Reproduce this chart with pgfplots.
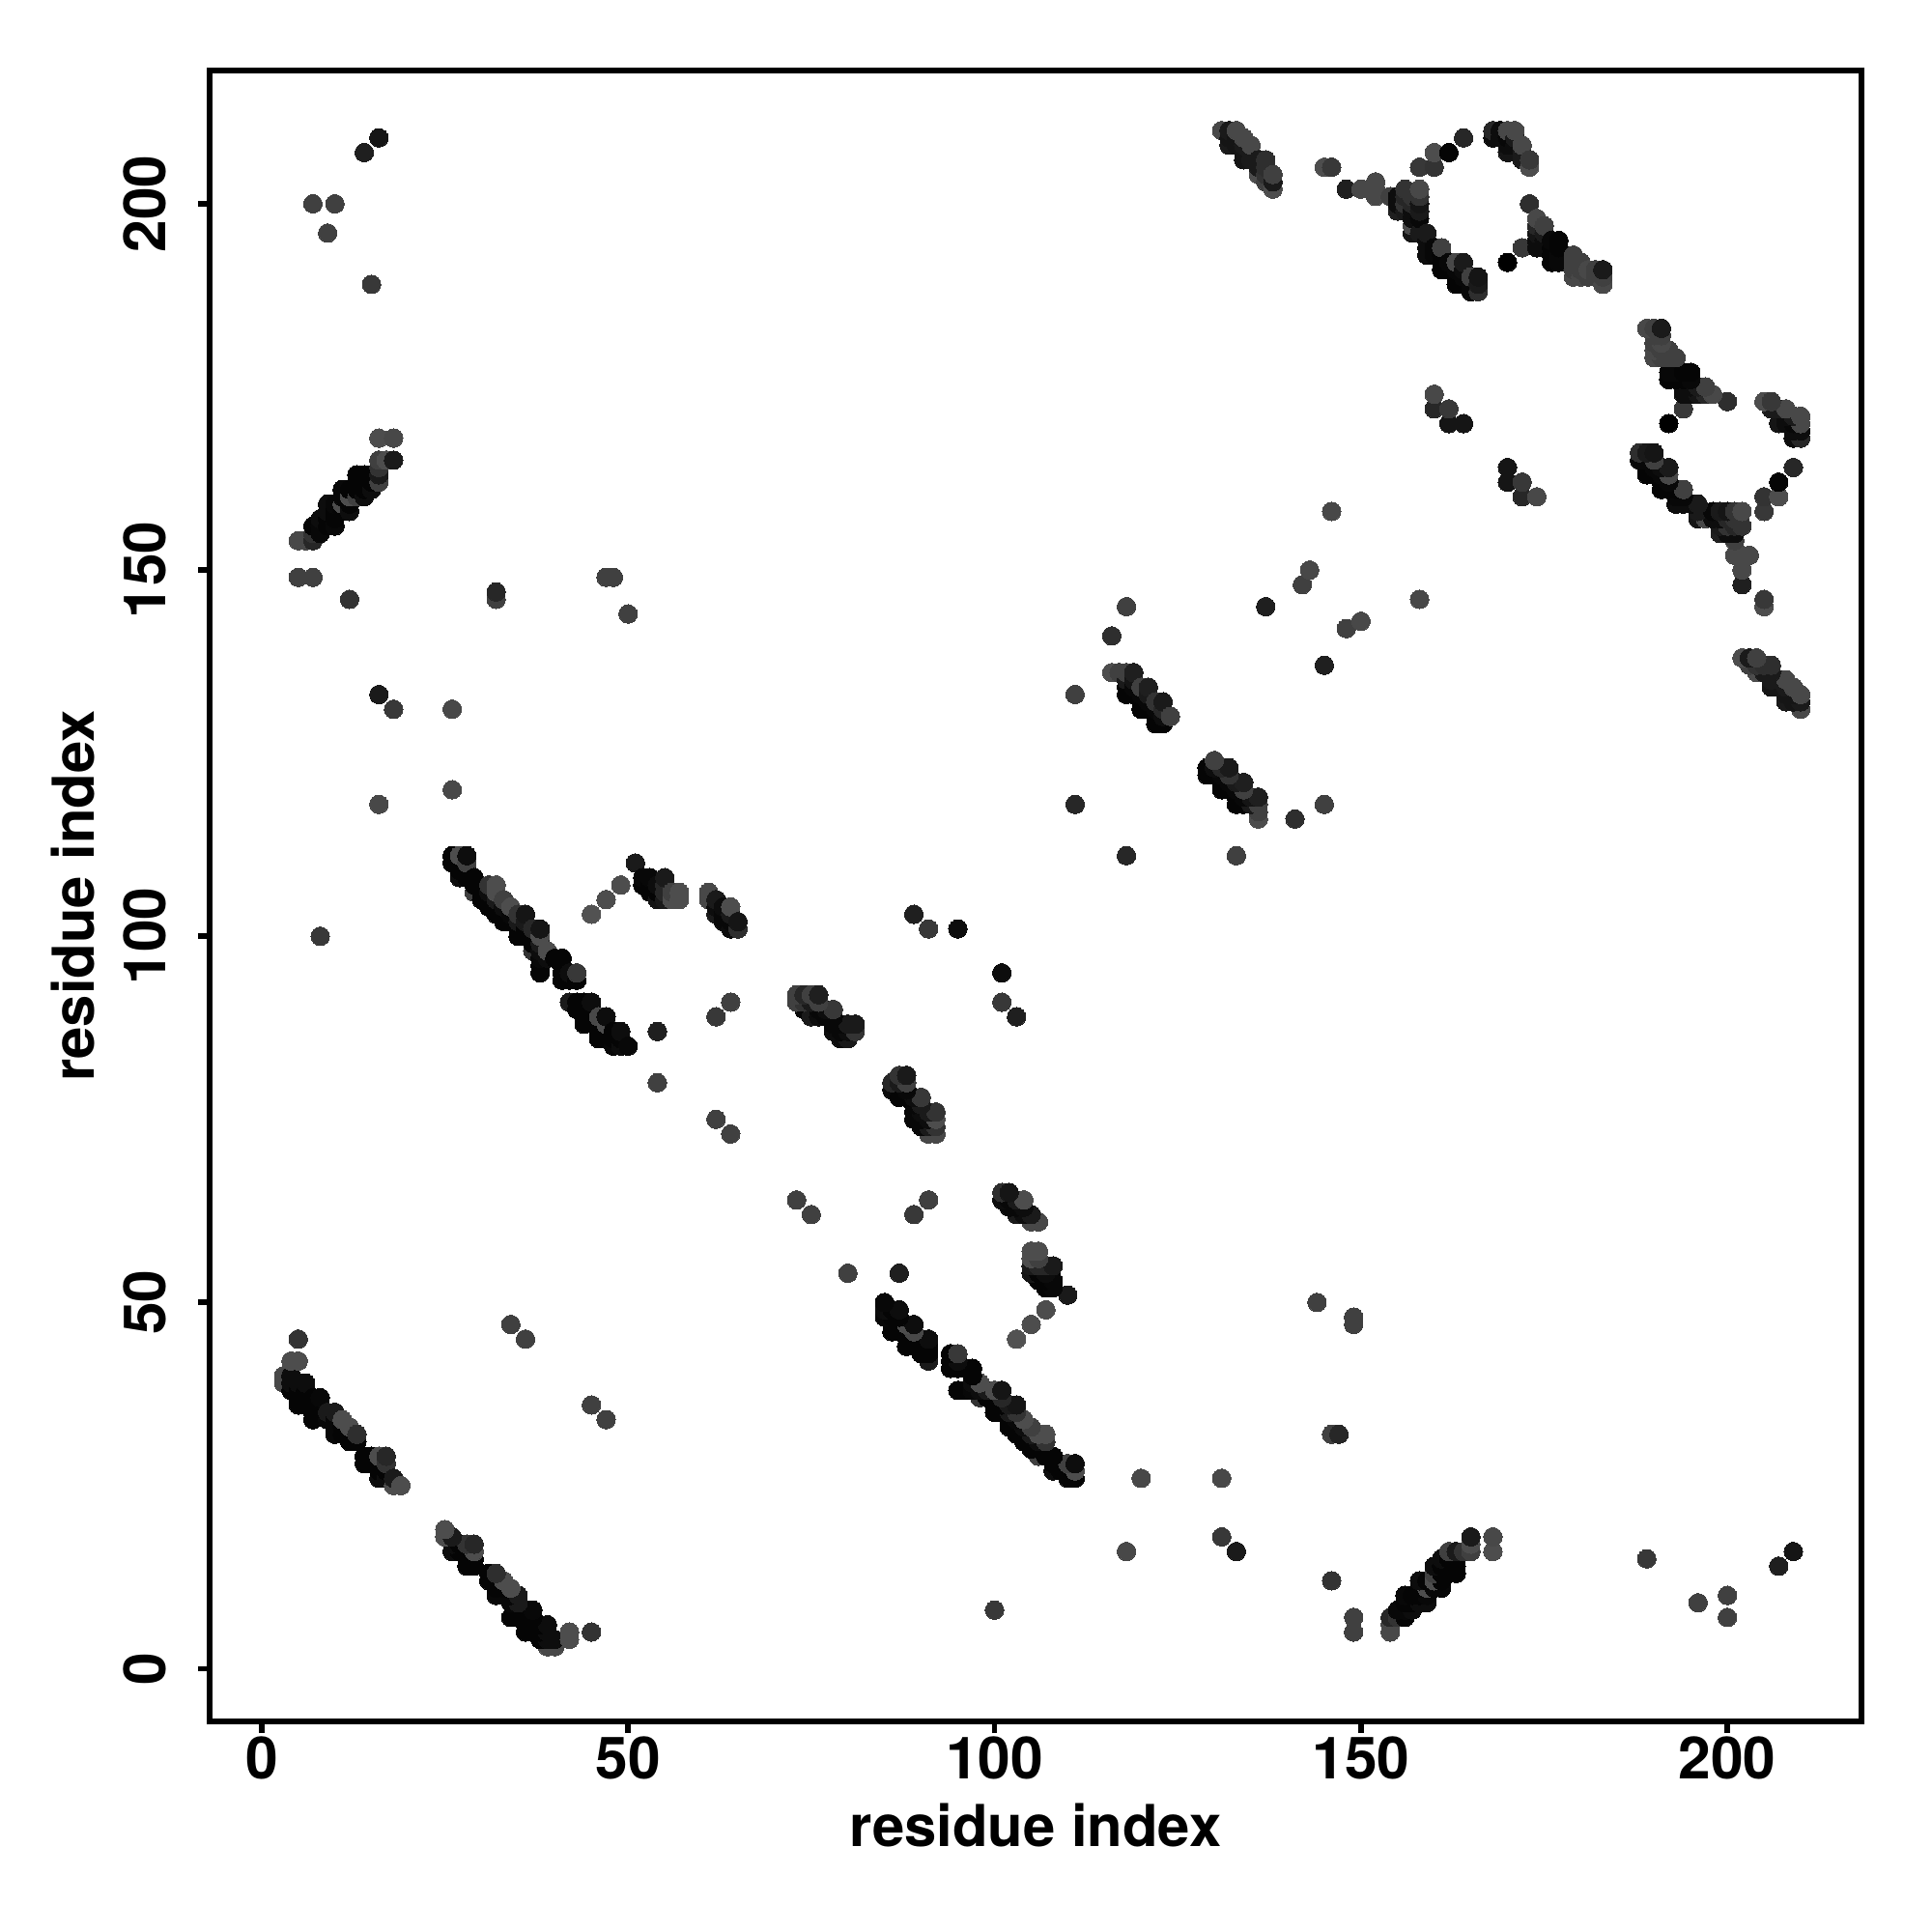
\documentclass[border=0pt]{standalone}
\usepackage{pgfplots}
\usepackage{pgfplotstable}
\usepackage{fontspec}
\setmainfont{TeX Gyre Heros}
\pgfplotsset{compat=1.18}
\pgfplotstableread{
a b g
3 39 .28
3 40 .28
4 38 .02
4 39 .05
4 40 .05
4 42 .3
5 36 .02
5 37 .02
5 38 .02
5 39 .05
5 42 .3
5 45 .2
5 149 .25
5 154 .28
6 36 .02
6 37 .02
6 38 .02
6 39 .05
6 154 .28
7 34 .02
7 35 .02
7 36 .02
7 37 .02
7 149 .25
7 154 .15
7 155 .2
7 156 .02
7 200 .25
8 35 .02
8 36 .02
8 37 .03
8 100 .22
8 155 .03
8 156 .03
8 157 .05
9 34 .03
9 35 .1
9 156 .02
9 157 .02
9 158 .05
9 159 .05
9 196 .25
10 32 .03
10 33 .03
10 34 .03
10 35 .1
10 156 .03
10 157 .02
10 158 .02
10 159 .03
10 200 .25
11 32 .02
11 33 .02
11 34 .3
11 158 .02
11 159 .3
11 160 .03
11 161 .03
12 31 .02
12 32 .02
12 33 .3
12 146 .2
12 158 .05
12 159 .02
12 160 .3
12 161 .02
13 31 .02
13 32 .18
13 160 .25
13 161 .02
13 162 .02
13 163 .02
14 28 .02
14 29 .02
14 160 .05
14 161 .02
14 162 .02
14 163 .02
14 207 .12
15 28 .02
15 29 .02
15 161 .05
15 162 .02
15 163 .02
15 189 .22
16 26 .05
16 27 .02
16 28 .02
16 29 .3
16 118 .28
16 133 .1
16 162 .25
16 163 .1
16 164 .2
16 165 .25
16 168 .3
16 209 .08
17 26 .05
17 27 .02
17 28 .2
17 29 .15
17 165 .3
18 25 .3
18 26 .1
18 131 .22
18 165 .1
18 168 .28
19 25 .3
26 110 .02
26 111 .02
26 120 .28
26 131 .28
27 108 .05
27 109 .02
27 110 .02
27 111 .3
28 108 .02
28 109 .02
28 110 .25
28 111 .05
29 106 .25
29 107 .02
29 108 .02
30 105 .02
30 106 .02
31 104 .02
31 105 .02
31 106 .05
31 107 .2
32 103 .02
32 104 .02
32 105 .1
32 106 .3
32 107 .3
32 146 .25
32 147 .15
33 102 .02
33 103 .02
33 104 .05
33 105 .25
34 47 .25
34 102 .02
34 103 .03
34 104 .3
35 100 .02
35 101 .02
35 102 .1
35 103 .2
36 45 .25
36 100 .02
36 101 .02
36 102 .1
36 103 .08
37 98 .2
37 99 .02
37 100 .02
37 101 .15
38 95 .02
38 96 .02
38 97 .03
38 98 .05
38 99 .1
38 100 .3
38 101 .08
39 97 .05
39 98 .3
40 97 .02
41 94 .02
41 95 .02
41 96 .02
41 97 .02
42 91 .1
42 94 .02
42 95 .05
43 90 .02
43 91 .02
43 94 .02
43 95 .22
44 88 .02
44 89 .02
44 90 .02
44 91 .02
45 89 .02
45 90 .02
45 91 .05
45 103 .32
46 86 .02
46 87 .02
46 88 .02
46 89 .28
47 86 .02
47 87 .02
47 88 .3
47 89 .05
47 105 .3
47 149 .25
48 85 .03
48 86 .02
48 87 .02
48 149 .25
49 85 .05
49 86 .02
49 87 .05
49 107 .3
50 85 .03
50 144 .25
51 110 .1
52 107 .02
52 108 .03
53 106 .02
53 107 .02
53 108 .03
54 80 .25
54 87 .12
54 105 .08
54 106 .02
54 107 .05
55 105 .1
55 106 .15
55 107 .15
55 108 .1
56 105 .3
56 106 .25
57 105 .3
57 106 .3
61 105 .28
61 106 .28
62 75 .25
62 89 .22
62 103 .1
62 104 .05
62 105 .1
63 102 .03
63 103 .03
63 104 .05
64 73 .25
64 91 .25
64 101 .05
64 102 .03
64 103 .1
64 104 .3
65 101 .18
65 102 .08
73 91 .28
73 92 .28
74 90 .03
74 91 .1
74 92 .2
75 89 .03
75 90 .03
75 91 .05
75 92 .3
76 89 .03
76 90 .05
76 91 .1
76 92 .2
77 89 .03
77 90 .1
78 87 .02
78 88 .02
78 89 .05
78 90 .22
79 87 .02
79 88 .03
80 86 .15
80 87 .1
80 88 .25
81 87 .2
81 88 .1
86 79 .05
86 80 .1
87 78 .05
87 79 .03
87 80 .05
87 81 .2
88 78 .03
88 79 .03
88 80 .1
88 81 .1
89 75 .1
89 76 .05
89 77 .03
89 78 .03
89 103 .12
90 76 .03
90 77 .05
90 78 .22
91 73 .25
91 74 .2
91 75 .1
91 76 .25
91 101 .22
92 73 .25
92 74 .15
92 75 .25
92 76 .12
95 101 .05
111 118 .15
111 133 .25
116 136 .3
116 141 .18
117 136 .25
118 133 .02
118 134 .02
118 135 .1
118 136 .25
118 145 .25
119 133 .02
119 134 .03
119 135 .08
119 136 .12
120 131 .02
120 132 .02
120 133 .03
120 134 .25
121 131 .02
121 132 .03
121 133 .1
121 134 .12
122 129 .02
122 130 .02
122 131 .03
122 132 .2
123 129 .02
123 130 .05
123 131 .15
123 132 .1
124 130 .25
131 210 .28
132 208 .1
132 209 .08
132 210 .1
133 208 .08
133 209 .08
133 210 .28
134 206 .08
134 207 .08
134 208 .1
134 209 .28
135 206 .1
135 207 .1
135 208 .28
136 204 .3
136 205 .1
136 206 .1
137 145 .12
137 203 .25
137 204 .2
137 205 .18
137 206 .18
138 202 .3
138 203 .1
138 204 .25
142 148 .25
143 150 .28
145 205 .3
146 158 .28
146 205 .22
148 202 .12
150 202 .28
152 201 .28
152 202 .28
152 203 .28
154 201 .25
155 199 .12
155 200 .05
155 201 .05
156 199 .1
156 200 .2
156 201 .15
156 202 .2
157 196 .08
157 197 .28
157 198 .05
157 199 .05
157 200 .15
157 201 .2
158 196 .1
158 198 .03
158 199 .1
158 200 .08
158 201 .2
158 202 .28
158 205 .22
159 193 .05
159 194 .05
159 195 .05
159 196 .1
160 172 .15
160 174 .28
160 193 .03
160 194 .03
160 205 .2
160 207 .3
161 191 .02
161 192 .02
161 193 .02
161 194 .25
162 170 .08
162 172 .22
162 191 .02
162 192 .03
162 207 .02
163 189 .02
163 190 .02
163 191 .03
163 192 .28
164 170 .08
164 189 .02
164 190 .03
164 191 .05
164 192 .1
164 209 .15
165 188 .03
165 189 .03
165 190 .25
166 188 .18
166 189 .1
166 190 .08
168 209 .05
168 210 .15
169 209 .05
169 210 .05
170 192 .0
170 207 .08
170 208 .05
170 209 .03
170 210 .28
171 208 .05
171 209 .1
171 210 .28
172 194 .22
172 206 .1
172 207 .1
172 208 .28
173 200 .18
173 205 .3
173 206 .22
174 194 .05
174 195 .05
174 196 .08
174 197 .15
174 198 .28
175 194 .05
175 195 .05
175 196 .1
175 197 .25
176 192 .02
176 193 .02
176 194 .02
176 195 .03
177 192 .03
177 193 .03
177 194 .02
177 195 .02
179 190 .28
179 191 .25
179 192 .25
179 193 .25
180 190 .28
180 191 .25
180 192 .25
181 190 .25
181 191 .28
182 190 .25
182 191 .25
183 189 .28
183 190 .25
183 191 .1
}\contacts
\begin{document}
\begin{tikzpicture}
\path[use as bounding box] (-54.25pt,-54.5pt) rectangle (445.75pt,445.5pt);
\begin{axis}[
  scale only axis, width=427.5pt, height=427.25pt,
  xmin=-7.1, xmax=218.3, ymin=-7.2, ymax=218.2,
  xtick={0,50,100,150,200}, ytick={0,50,100,150,200},
  axis line style={line width=1.6pt},
  tick style={line width=1.4pt, black},
  tick align=outside, tickwidth=3pt,
  xtick pos=lower, ytick pos=left,
  /pgf/number format/assume math mode=true,
  ticklabel style={font=\fontsize{15.1}{18}\selectfont\bfseries},
  xticklabel style={anchor=north},
  yticklabel style={rotate=90, anchor=south},
  xticklabel shift=-2.5pt, yticklabel shift=4.8pt,
  xlabel={residue index}, ylabel={residue index},
  label style={font=\fontsize{14.95}{18}\selectfont\bfseries},
  xlabel style={at={(axis description cs:0.5,-0.0628)}, anchor=center},
  ylabel style={at={(axis description cs:-0.0826,0.5)}, anchor=center, rotate=0},
  colormap/blackwhite, point meta min=0, point meta max=1,
  clip=false,
]
\addplot[scatter, only marks, mark=*, mark size=2.4pt, mark options={line width=0pt},
  scatter src=explicit, scatter/use mapped color={draw=mapped color, fill=mapped color}]
  table[x=a, y=b, meta=g] {\contacts};
\addplot[scatter, only marks, mark=*, mark size=2.4pt, mark options={line width=0pt},
  scatter src=explicit, scatter/use mapped color={draw=mapped color, fill=mapped color}]
  table[x=b, y=a, meta=g] {\contacts};
\end{axis}
\end{tikzpicture}
\end{document}
